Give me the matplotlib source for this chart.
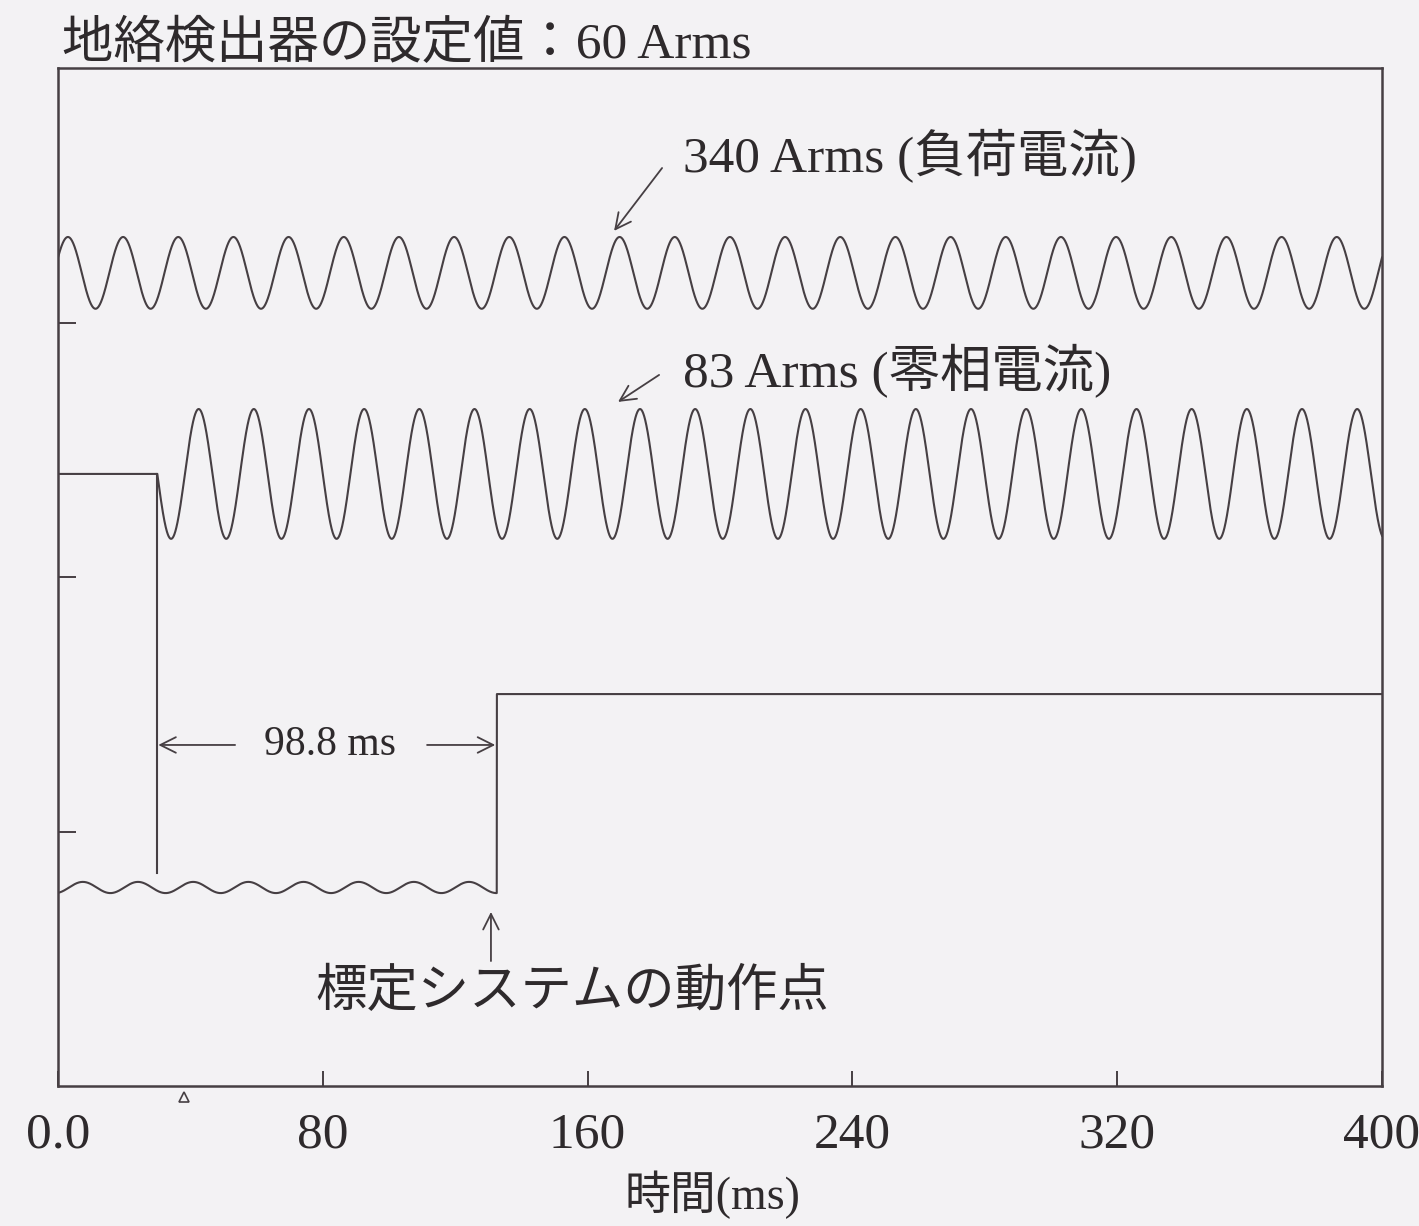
import numpy as np
import matplotlib
matplotlib.use("Agg")
import matplotlib.pyplot as plt

plt.rcParams['font.family'] = ['Liberation Serif', 'Noto Sans CJK JP']

# values (time in ms, y in arbitrary trace units 0..4)
freq_hz = 60.0
t_end = 400.0
t_fault = 30.0          # zero-phase current starts
t_operate = 132.6       # locating system operates
load_center, load_amp, load_peak_t = 3.195, 0.141, 3.0
zero_center, zero_amp = 2.405, 0.255
out_low, out_ripple, out_ripple_peak_t = 0.78, 0.022, 7.5
out_high = 1.54
marker_t = 38.0

xticks = [0, 80, 160, 240, 320, 400]
xticklabels = ["0.0", "80", "160", "240", "320", "400"]
yticks = [1, 2, 3]

title_txt = "地絡検出器の設定値：60 Arms"
load_txt = "340 Arms (負荷電流)"
zero_txt = "83 Arms (零相電流)"
delay_txt = "98.8 ms"
op_txt = "標定システムの動作点"
xlabel_txt = "時間(ms)"

line_c = '#463f43'
text_c = '#2e2a2c'
bg = '#f3f2f4'

t = np.linspace(0, t_end, 8001)
w = 2 * np.pi * freq_hz / 1000.0

load = load_center + load_amp * np.cos(w * (t - load_peak_t))
zero = np.where(t < t_fault, zero_center,
                zero_center - zero_amp * np.sin(w * (t - t_fault)))
out = np.where(t < t_operate,
               out_low + out_ripple * np.cos(w * (t - out_ripple_peak_t)),
               out_high)

fig = plt.figure(figsize=(14.19, 12.26), dpi=100, facecolor=bg)
ax = fig.add_axes([58 / 1419, 1 - 1086 / 1226, 1324 / 1419, 1018 / 1226])
ax.set_facecolor(bg)

ax.plot(t, load, color=line_c, lw=1.5)
ax.plot(t, zero, color=line_c, lw=1.5)
ax.plot(t, out, color=line_c, lw=1.5)
# fault instant marker line
ax.plot([t_fault, t_fault], [zero_center, 0.837], color=line_c, lw=1.5)

ax.set_xlim(0, t_end)
ax.set_ylim(0, 4)
ax.set_xticks(xticks)
ax.set_xticklabels(xticklabels)
ax.set_yticks(yticks)
ax.tick_params(axis='x', direction='in', length=11, width=1.4, pad=19,
               labelsize=37, colors=line_c, labelcolor=text_c)
ax.tick_params(axis='y', direction='in', length=13, width=1.4,
               labelleft=False, colors=line_c)
labs = ax.get_xticklabels()
labs[0].set_x(-2.5)
labs[-1].set_x(399.0)
for s in ax.spines.values():
    s.set_color(line_c)
    s.set_linewidth(1.8)

ax.plot([marker_t], [-0.045], marker='^', ms=7, mfc='none', mec=line_c,
        mew=1.2, clip_on=False)

arr = dict(arrowstyle='->', color=line_c, lw=1.3, mutation_scale=28,
           shrinkA=0, shrinkB=0)
ax.annotate("", xy=(168.0, 3.36), xytext=(182.5, 3.607), arrowprops=arr)
ax.text(188.8, 3.655, load_txt, fontsize=37, color=text_c, va='center', ha='left')
ax.annotate("", xy=(169.2, 2.688), xytext=(181.6, 2.794), arrowprops=arr)
ax.text(188.8, 2.81, zero_txt, fontsize=37, color=text_c, va='center', ha='left')

ax.annotate("", xy=(t_fault + 0.3, 1.34), xytext=(53.5, 1.34), arrowprops=arr)
ax.annotate("", xy=(t_operate - 0.5, 1.34), xytext=(111.5, 1.34), arrowprops=arr)
ax.text(82.2, 1.34, delay_txt, fontsize=30, color=text_c, va='center', ha='center')

ax.annotate("", xy=(130.8, 0.684), xytext=(130.8, 0.491), arrowprops=arr)
ax.text(77.9, 0.365, op_txt, fontsize=37, color=text_c, va='center', ha='left')

fig.text(62 / 1419, 1 - 45 / 1226, title_txt, fontsize=37, color=text_c,
         va='center', ha='left')
fig.text(712 / 1419, 1 - 1195 / 1226, xlabel_txt, fontsize=33, color=text_c,
         va='center', ha='center')

fig.savefig("out.png", dpi=100, facecolor=bg)
